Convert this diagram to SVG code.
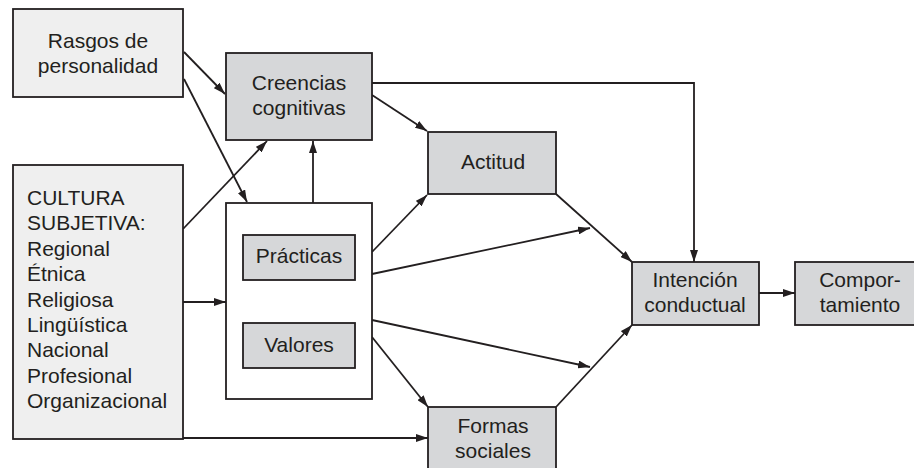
<svg xmlns="http://www.w3.org/2000/svg" width="914" height="468" viewBox="0 0 914 468">
<style>
.light{fill:#efefef;stroke:#231f20;stroke-width:1.8}
.mid{fill:#d6d7d9;stroke:#231f20;stroke-width:1.8}
.white{fill:#ffffff;stroke:#231f20;stroke-width:1.8}
text{font-family:"Liberation Sans",Arial,sans-serif;font-size:21px;fill:#231f20}
.c{text-anchor:middle}
.conn path{fill:none;stroke:#231f20;stroke-width:1.8}
</style>
<defs>
<marker id="ah" viewBox="0 0 12 8" refX="12" refY="4" markerWidth="12" markerHeight="8" markerUnits="userSpaceOnUse" orient="auto">
<path d="M0,0 L12,4 L0,8 z" fill="#231f20"/>
</marker>
</defs>
<rect width="914" height="468" fill="#ffffff"/>
<g class="conn">
<path d="M184,52 L225,94" marker-end="url(#ah)"/>
<path d="M184,79 L247,202" marker-end="url(#ah)"/>
<path d="M183,229 L267,141" marker-end="url(#ah)"/>
<path d="M313,203 L313,141" marker-end="url(#ah)"/>
<path d="M183,302 L226,302" marker-end="url(#ah)"/>
<path d="M183,438 L428,438" marker-end="url(#ah)"/>
<path d="M372,83 L694,83 L694,262" marker-end="url(#ah)"/>
<path d="M372,95 L427,131" marker-end="url(#ah)"/>
<path d="M372,252 L427,195" marker-end="url(#ah)"/>
<path d="M372,274 L590,228" marker-end="url(#ah)"/>
<path d="M556,194 L632,262" marker-end="url(#ah)"/>
<path d="M372,320 L590,367" marker-end="url(#ah)"/>
<path d="M372,337 L428,407" marker-end="url(#ah)"/>
<path d="M556,407 L632,325" marker-end="url(#ah)"/>
<path d="M759,293 L795,293" marker-end="url(#ah)"/>
</g>
<g id="rasgos">
<rect class="light" x="13" y="9" width="170" height="88"/>
<text class="c" x="98" y="48">Rasgos de</text>
<text class="c" x="98" y="73">personalidad</text>
</g>
<g id="creencias">
<rect class="mid" x="226" y="53" width="146" height="87"/>
<text class="c" x="299" y="90">Creencias</text>
<text class="c" x="299" y="115">cognitivas</text>
</g>
<g id="cultura">
<rect class="light" x="13" y="165" width="170" height="274"/>
<text x="27" y="205">CULTURA</text>
<text x="27" y="230.4">SUBJETIVA:</text>
<text x="27" y="255.8">Regional</text>
<text x="27" y="281.2">Étnica</text>
<text x="27" y="306.6">Religiosa</text>
<text x="27" y="332">Lingüística</text>
<text x="27" y="357.4">Nacional</text>
<text x="27" y="382.8">Profesional</text>
<text x="27" y="408.2">Organizacional</text>
</g>
<g id="grupo">
<rect class="white" x="226" y="203" width="146" height="196"/>
</g>
<g id="practicas">
<rect class="mid" x="243" y="235" width="112" height="45"/>
<text class="c" x="299" y="263">Prácticas</text>
</g>
<g id="valores">
<rect class="mid" x="243" y="323" width="112" height="45"/>
<text class="c" x="299" y="352">Valores</text>
</g>
<g id="actitud">
<rect class="mid" x="428" y="132" width="128" height="62"/>
<text class="c" x="493" y="169">Actitud</text>
</g>
<g id="formas">
<rect class="mid" x="428" y="407" width="128" height="70"/>
<text class="c" x="493" y="433">Formas</text>
<text class="c" x="493" y="458">sociales</text>
</g>
<g id="intencion">
<rect class="mid" x="632" y="262" width="127" height="63"/>
<text class="c" x="695" y="287">Intención</text>
<text class="c" x="695" y="312">conductual</text>
</g>
<g id="comportamiento">
<rect class="mid" x="795" y="262" width="130" height="63"/>
<text class="c" x="860" y="287">Compor-</text>
<text class="c" x="860" y="312">tamiento</text>
</g>
</svg>
